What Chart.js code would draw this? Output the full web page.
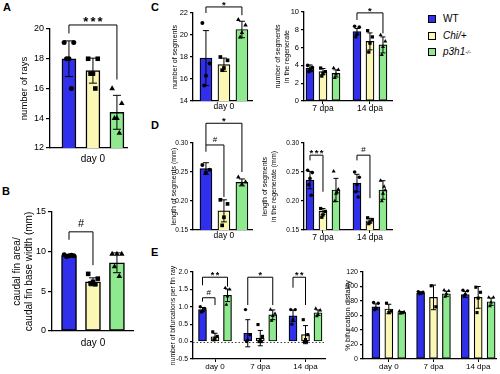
<!DOCTYPE html>
<html>
<head>
<meta charset="utf-8">
<script src="https://cdn.jsdelivr.net/npm/chart.js@4.4.1/dist/chart.umd.min.js"></script>
<style>
  body { margin: 0; background: #fff; }
  #fig { position: relative; width: 500px; height: 374px; overflow: hidden;
         font-family: "Liberation Sans", Arial, Helvetica, sans-serif; color: #000; }
  #fig canvas { position: absolute; }
  .tag { position: absolute; font-weight: bold; font-size: 11px; line-height: 11px; }
  .key { position: absolute; left: 428px; height: 10px; font-size: 10px; line-height: 10px;
         display: flex; align-items: center; white-space: nowrap; }
  .sw { display: inline-block; width: 6px; height: 6px; border: 1px solid #000; margin-right: 7px; }
  .key sup { font-size: 6px; line-height: 6px; vertical-align: 4px; font-style: italic; }
</style>
</head>
<body>
<div id="fig">
  <div class="tag" style="left:3px;top:2px">A</div>
  <div class="tag" style="left:2px;top:186px">B</div>
  <div class="tag" style="left:151px;top:2px">C</div>
  <div class="tag" style="left:151px;top:120px">D</div>
  <div class="tag" style="left:151px;top:247px">E</div>
</div>
<script>
// ---- data ----
const series = ['WT', 'Chi/+', 'p3h1'];
const seriesSup = ['', '', '-/-'];

// A: number of rays
const raysGroups = ['day 0'];
const raysMean = [[18.0], [17.2], [14.4]];
const raysSd = [[1.2], [0.84], [1.14]];
const raysPts = [[[19.1, 19.1, 18, 18, 16]], [[18, 18, 17, 17, 16]], [[16, 15, 14, 14, 13]]];
const raysTicks = [12, 14, 16, 18, 20];
const raysSig = [{g: 0, a: 0, b: 2, y: 20.27, ya: 19.7, yb: 16.6, text: '***'}];

// B: caudal fin area / base width
const finGroups = ['day 0'];
const finMean = [[9.5], [6.2], [8.6]];
const finSd = [[0.12], [0.5], [1.25]];
const finPts = [[[9.6, 9.5, 9.5, 9.4, 9.55]], [[7.2, 6.6, 6.2, 6.0, 5.9]], [[9.7, 9.7, 9.7, 8.1, 6.9]]];
const finTicks = [0, 5, 10, 15];
const finSig = [{g: 0, a: 0, b: 1, y: 12.5, ya: 11.5, yb: 8.3, text: '#'}];

// C left: number of segments
const segGroups = ['day 0'];
const segMean = [[17.9], [17.3], [20.5]];
const segSd = [[2.5], [0.6], [0.75]];
const segPts = [[[21.1, 17.4, 16.3, 15.4]], [[18.0, 17.7, 17.0, 16.8]], [[21.4, 20.9, 20.2, 19.8]]];
const segTicks = [14, 16, 18, 20, 22];
const segSig = [{g: 0, a: 0, b: 2, y: 22.55, ya: 22.0, yb: 21.8, text: '*'}];

// C right: number of segments in the regenerate
const regGroups = ['7 dpa', '14 dpa'];
const regMean = [[3.7, 7.8], [3.3, 6.7], [3.1, 6.3]];
const regSd = [[0.35, 0.35], [0.35, 0.95], [0.4, 0.9]];
const regPts = [
  [[4.0, 3.8, 3.6, 3.3, 3.4], [8.4, 8.3, 7.5, 7.2]],
  [[3.7, 3.3, 3.1, 2.8], [7.9, 7.2, 6.5, 5.5]],
  [[3.7, 3.5, 3.0, 2.6], [7.4, 6.7, 6.1, 5.2]]
];
const regTicks = [0, 2, 4, 6, 8, 10];
const regSig = [{g: 1, a: 0, b: 2, y: 9.9, ya: 9.1, yb: 7.6, text: '*'}];

// D left: length of segments
const lenGroups = ['day 0'];
const lenMean = [[0.256], [0.183], [0.232]];
const lenSd = [[0.01], [0.019], [0.006]];
const lenPts = [[[0.262, 0.254, 0.249]], [[0.202, 0.195, 0.172, 0.158]], [[0.241, 0.233, 0.229]]];
const lenTicks = [0.15, 0.20, 0.25, 0.30];
const lenSig = [
  {g: 0, a: 0, b: 2, y: 0.334, ya: 0.2966, yb: 0.25, text: '*'},
  {g: 0, a: 0, b: 1, y: 0.2966, ya: 0.285, yb: 0.207, text: '#'}
];

// D right: length of segments in the regenerate
const lenRegGroups = ['7 dpa', '14 dpa'];
const lenRegMean = [[0.236, 0.231], [0.182, 0.166], [0.219, 0.219]];
const lenRegSd = [[0.015, 0.015], [0.005, 0.004], [0.02, 0.016]];
const lenRegPts = [
  [[0.253, 0.249, 0.239, 0.228, 0.21], [0.25, 0.241, 0.228, 0.216, 0.207]],
  [[0.187, 0.182, 0.176, 0.172], [0.171, 0.168, 0.164, 0.161]],
  [[0.251, 0.22, 0.213, 0.2, 0.215], [0.235, 0.219, 0.213, 0.2, 0.225]]
];
const lenRegTicks = [0.15, 0.20, 0.25, 0.30];
const lenRegSig = [
  {g: 0, a: 0, b: 1, y: 0.279, ya: 0.27, yb: 0.216, text: '***'},
  {g: 1, a: 0, b: 1, y: 0.279, ya: 0.27, yb: 0.205, text: '#'}
];

// E left: number of bifurcations per fin ray
const bifGroups = ['day 0', '7 dpa', '14 dpa'];
const bifMean = [[0.92, 0.24, 0.74], [0.14, 0.1, 0.2], [1.33, 0.77, 0.83]];
const bifSd = [[0.06, 0.39, 0.16], [0.1, 0.22, 0.26], [0.18, 0.14, 0.08]];
const bifPts = [
  [[1.0, 0.95, 0.88, 0.85], [0.92, 0.2, 0.05, 0.0], [0.92, 0.92, 0.63, 0.5]],
  [[0.28, 0.15, 0.1, 0.05], [0.49, 0.15, 0.03, 0.0, 0.0], [0.63, 0.2, 0.06, 0.0, 0.0]],
  [[1.54, 1.5, 1.3, 1.06], [0.92, 0.8, 0.74, 0.6], [0.95, 0.9, 0.78, 0.73]]
];
const bifTicks = [-0.5, 0, 0.5, 1.0, 1.5, 2.0];
const bifSig = [
  {g: 0, a: 0, b: 1, y: 1.26, ya: 1.15, yb: 1.05, text: '#'},
  {g: 0, a: 0, b: 2, y: 1.85, ya: 1.62, yb: 1.58, text: '**'},
  {g: 1, a: 0, b: 2, y: 1.85, ya: 1.05, yb: 1.05, text: '*'},
  {g: 2, a: 0, b: 1, y: 1.85, ya: 1.55, yb: 1.05, text: '**'}
];

// E right: % bifurcation distality
const distGroups = ['day 0', '7 dpa', '14 dpa'];
const distMean = [[72, 91, 89], [69, 85, 85], [64, 90, 79]];
const distSd = [[4, 1.5, 4], [6.5, 17, 15], [1.5, 3.5, 5]];
const distPts = [
  [[78, 77, 70, 68], [93, 92, 91, 90], [95, 94, 89, 87]],
  [[77, 66, 64], [101, 72], [99, 92, 84, 64]],
  [[66, 65, 64, 63], [95, 94, 90, 86], [85, 85, 78, 73]]
];
const distTicks = [0, 20, 40, 60, 80, 100, 120];
const distSig = [];

// ---- styling / layout ----
const FONT = '"Liberation Sans", Arial, Helvetica, sans-serif';
const COLORS = ['#3030ec', '#fbf7b5', '#8fea8f'];
const SHAPES = ['circle', 'rect', 'triangle'];
const SHAPE_SCALE = [1, 1.3, 1.3];
const JITTER = [-0.2, 0.2, 0, -0.1, 0.1];

const big = {barBorder: 1.5, ptR: 2.5, cap: 4, tickLen: 4, yFont: 9, xFont: 10, xPad: 5, tLh: 1.2,
             starFont: 13, starGap: 2, starDrop: 1, hashFont: 11, hashLift: 5};
const small = {barBorder: 1.2, ptR: 2, cap: 3, tickLen: 3, yFont: 7.5, xFont: 8.5, xPad: 1, tLh: 1.2,
               starFont: 9.5, starGap: 1.5, starDrop: 1, hashFont: 8, hashLift: 3};

function mark(L, sig) {
  return {
    id: 'marks',
    beforeDatasetsDraw(chart) {
      if (!L.zero) return;
      const {ctx, chartArea: a, scales: {y}} = chart;
      const py = Math.round(y.getPixelForValue(0)) + 0.5;
      ctx.save();
      ctx.setLineDash([1.5, 2]);
      ctx.strokeStyle = '#444';
      ctx.lineWidth = 1;
      ctx.beginPath(); ctx.moveTo(a.left, py); ctx.lineTo(a.right, py); ctx.stroke();
      ctx.restore();
    },
    afterDatasetsDraw(chart) {
      const {ctx, scales: {x, y}} = chart;
      ctx.save();
      ctx.strokeStyle = '#000';
      ctx.fillStyle = '#000';
      ctx.lineWidth = 1;
      // error bars (mean +/- SD)
      chart.data.datasets.forEach(ds => {
        if (!ds.sd) return;
        ds.data.forEach((p, i) => {
          const px = x.getPixelForValue(p.x);
          const t = y.getPixelForValue(p.y + ds.sd[i]);
          const b = y.getPixelForValue(p.y - ds.sd[i]);
          ctx.beginPath();
          ctx.moveTo(px, t); ctx.lineTo(px, b);
          ctx.moveTo(px - L.cap, t); ctx.lineTo(px + L.cap, t);
          ctx.moveTo(px - L.cap, b); ctx.lineTo(px + L.cap, b);
          ctx.stroke();
        });
      });
      // significance brackets
      sig.forEach(s => {
        const xa = x.getPixelForValue(s.g * L.gap + s.a - 1);
        const xb = x.getPixelForValue(s.g * L.gap + s.b - 1);
        const py = y.getPixelForValue(s.y);
        ctx.beginPath();
        ctx.moveTo(xa, y.getPixelForValue(s.ya));
        ctx.lineTo(xa, py); ctx.lineTo(xb, py);
        ctx.lineTo(xb, y.getPixelForValue(s.yb));
        ctx.stroke();
        const star = s.text.includes('*');
        ctx.font = star ? 'bold ' + L.starFont + 'px ' + FONT : L.hashFont + 'px ' + FONT;
        ctx.letterSpacing = star ? L.starGap + 'px' : '0px';
        ctx.textAlign = 'center';
        ctx.textBaseline = 'alphabetic';
        ctx.fillText(s.text, (xa + xb) / 2 + (star ? L.starGap / 2 : 0), star ? py + L.starDrop : py - L.hashLift);
      });
      ctx.restore();
    }
  };
}

function panel(L, groups, mean, sd, pts, yTicks, sig) {
  const cv = document.createElement('canvas');
  cv.width = L.box[2]; cv.height = L.box[3];
  cv.style.left = L.box[0] + 'px'; cv.style.top = L.box[1] + 'px';
  cv.style.width = L.box[2] + 'px'; cv.style.height = L.box[3] + 'px';
  document.getElementById('fig').appendChild(cv);

  const xOf = (g, s) => g * L.gap + (s - 1);
  const datasets = [];
  series.forEach((name, s) => {
    datasets.push({
      type: 'bar', label: name, order: 2,
      data: groups.map((_, g) => ({x: xOf(g, s), y: mean[s][g]})),
      sd: sd[s],
      backgroundColor: COLORS[s], borderColor: '#000', borderWidth: L.barBorder,
      borderSkipped: false, barThickness: L.barW, grouped: false
    });
  });
  series.forEach((name, s) => {
    const data = [];
    groups.forEach((_, g) => {
      pts[s][g].forEach((v, k) => data.push({x: xOf(g, s) + JITTER[k % JITTER.length] * L.spread, y: v}));
    });
    datasets.push({
      type: 'scatter', label: name + ' points', order: 1, data,
      pointStyle: SHAPES[s], pointRadius: L.ptR * SHAPE_SCALE[s],
      backgroundColor: '#000', borderColor: '#000', borderWidth: 0, clip: false
    });
  });

  const multi = groups.length > 1;
  new Chart(cv, {
    type: 'bar',
    data: {datasets},
    options: {
      responsive: false,
      animation: false,
      devicePixelRatio: 1,
      layout: {padding: {left: 0, top: L.padTop, right: L.padRight, bottom: 0}},
      plugins: {legend: {display: false}, tooltip: {enabled: false}},
      scales: {
        x: {
          type: 'linear', min: L.xMin, max: L.xMax, offset: false,
          afterBuildTicks: sc => { sc.ticks = groups.map((_, g) => ({value: g * L.gap})); },
          afterFit: sc => { sc.height = L.xH; },
          grid: multi
            ? {display: true, drawOnChartArea: false, drawTicks: true, tickLength: 3, color: '#000', lineWidth: 1, offset: false}
            : {display: false, drawTicks: false},
          border: {display: true, color: '#000', width: 1.3},
          ticks: {callback: (v, i) => groups[i], color: '#000', font: {family: FONT, size: L.xFont},
                  padding: L.xPad, maxRotation: 0, autoSkip: false}
        },
        y: {
          type: 'linear', min: yTicks[0], max: yTicks[yTicks.length - 1],
          afterBuildTicks: sc => { sc.ticks = yTicks.map(v => ({value: v})); },
          afterFit: sc => { sc.width = L.yW; },
          grid: {display: true, drawOnChartArea: false, drawTicks: true, tickLength: L.tickLen, color: '#000', lineWidth: 1.2},
          border: {display: true, color: '#000', width: 1.3},
          ticks: {callback: v => v.toFixed(L.dec), color: '#000', font: {family: FONT, size: L.yFont}, padding: 2},
          title: {display: true, text: L.title, color: '#000',
                  font: {family: FONT, size: L.tFont, lineHeight: L.tLh}, padding: L.tPad}
        }
      }
    },
    plugins: [mark(L, sig)]
  });
}

panel({...big, box: [0, 0, 140, 172], yW: 50, padTop: 29, padRight: 13, xH: 24, xMin: -1.79, xMax: 1.42,
       gap: 1, barW: 14, spread: 1, dec: 0, title: ['number of rays'], tFont: 9.5, tPad: 19},
      raysGroups, raysMean, raysSd, raysPts, raysTicks, raysSig);

panel({...big, box: [0, 172, 145, 202], yW: 52, padTop: 40, padRight: 12, xH: 43, xMin: -1.71, xMax: 1.67,
       gap: 1, barW: 15, spread: 1, dec: 0, title: ['caudal fin area/', 'caudal fin base width (mm)'],
       tFont: 10, tPad: 11, xPad: 6},
      finGroups, finMean, finSd, finPts, finTicks, finSig);

panel({...small, box: [160, 0, 100, 118], yW: 33, padTop: 13, padRight: 8, xH: 17, xMin: -1.72, xMax: 1.56,
       gap: 1, barW: 12, spread: 1, dec: 0, title: ['number of segments'], tFont: 7, tPad: 10.8},
      segGroups, segMean, segSd, segPts, segTicks, segSig);

panel({...small, box: [262, 0, 136, 118], yW: 42, padTop: 12, padRight: 6, xH: 17, xMin: -1.46, xMax: 5.31,
       gap: 3.615, barW: 8, spread: 0.9, ptR: 1.8, cap: 2.5, xPad: 0, dec: 0,
       title: ['number of segments', 'in the regenerate'], tFont: 7, tLh: 1.3, tPad: 11.5},
      regGroups, regMean, regSd, regPts, regTicks, regSig);

panel({...small, box: [160, 108, 100, 138], yW: 33, padTop: 35, padRight: 8, xH: 16, xMin: -1.72, xMax: 1.56,
       gap: 1, barW: 12, spread: 1, dec: 2, yFont: 6.5, title: ['length of segments (mm)'], tFont: 7, tPad: 9.5},
      lenGroups, lenMean, lenSd, lenPts, lenTicks, lenSig);

panel({...small, box: [255, 108, 143, 138], yW: 49, padTop: 35, padRight: 6, xH: 16, xMin: -1.46, xMax: 5.31,
       gap: 3.615, barW: 8, spread: 0.9, ptR: 1.8, cap: 2.5, xPad: 0, dec: 2, yFont: 6.5,
       title: ['length of segments', 'in the regenerate (mm)'], tFont: 7, tLh: 1.3, tPad: 5.5},
      lenRegGroups, lenRegMean, lenRegSd, lenRegPts, lenRegTicks, lenRegSig);

panel({...small, box: [160, 250, 170, 124], yW: 33, padTop: 22, padRight: 5, xH: 15, xMin: -1.76, xMax: 8.8,
       gap: 3.62, barW: 8, spread: 0.9, ptR: 1.7, cap: 2.5, yFont: 6.8, xFont: 8, xPad: 0, dec: 1, zero: true,
       title: ['number of bifurcations per fin ray'], tFont: 6.8, tPad: 8.8, starFont: 9},
      bifGroups, bifMean, bifSd, bifPts, bifTicks, bifSig);

panel({...small, box: [335, 250, 165, 124], yW: 28, padTop: 22, padRight: 3, xH: 15, xMin: -2.0, xMax: 8.3,
       gap: 3.46, barW: 8, spread: 0.9, ptR: 1.7, cap: 2.5, yFont: 7, xFont: 8, xPad: 0, dec: 0,
       title: ['% bifurcation distality'], tFont: 7.5, tPad: 8.5},
      distGroups, distMean, distSd, distPts, distTicks, distSig);

// legend
const fig = document.getElementById('fig');
series.forEach((name, s) => {
  const row = document.createElement('div');
  row.className = 'key';
  row.style.top = (14 + s * 16.5) + 'px';
  const sw = document.createElement('span');
  sw.className = 'sw';
  sw.style.background = COLORS[s];
  const label = document.createElement('span');
  label.textContent = name;
  if (s > 0) label.style.fontStyle = 'italic';
  row.append(sw, label);
  if (seriesSup[s]) {
    const sup = document.createElement('sup');
    sup.textContent = seriesSup[s];
    row.append(sup);
  }
  fig.appendChild(row);
});
</script>
</body>
</html>
